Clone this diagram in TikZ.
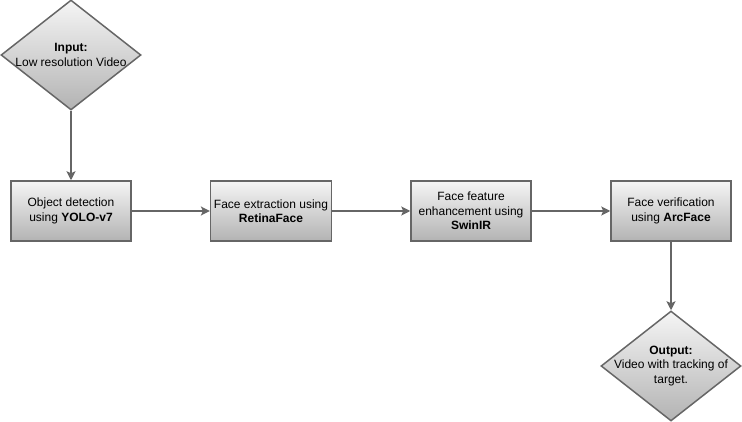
\documentclass[tikz,border=0pt]{standalone}
\usepackage{fontspec}
\setmainfont{Liberation Sans}
\usetikzlibrary{shapes.geometric,arrows.meta}
\definecolor{edgegray}{HTML}{666666}
\definecolor{topgray}{HTML}{F5F5F5}
\definecolor{botgray}{HTML}{B3B3B3}
\begin{document}
\begin{tikzpicture}[x=1pt,y=-1pt,
    proc/.style={rectangle, draw=edgegray, line width=1.5pt, top color=topgray, bottom color=botgray,
      minimum width=120pt, minimum height=60pt, align=center, font=\fontsize{12}{14.5}\selectfont},
    dec/.style={diamond, draw=edgegray, line width=1.5pt, top color=topgray, bottom color=botgray,
      minimum width=140pt, minimum height=110pt, inner sep=0pt},
    flow/.style={draw=edgegray, line width=1.5pt, -{Stealth[length=9pt,width=9pt,inset=2pt]}}]
  \useasboundingbox (0,0) rectangle (742,422);
  % input / output
  \node[dec] (in) at (71,55) {};
  \node[align=center, font=\fontsize{12}{14.5}\selectfont] (intext) at (in) {\textbf{Input:}\\Low resolution Video};
  \node[dec] (out) at (671,366) {};
  \node[align=center, font=\fontsize{12}{14.5}\selectfont] (outtext) at (out) {\textbf{Output:}\\Video with tracking of\\target.};
  % processing steps
  \node[proc] (yolo) at (71,211) {Object detection\\using \textbf{YOLO-v7}};
  \node[proc] (retina) at (271,211) {Face extraction using\\\textbf{RetinaFace}};
  \node[proc] (swin) at (471,211) {Face feature\\enhancement using\\\textbf{SwinIR}};
  \node[proc] (arc) at (671,211) {Face verification\\using \textbf{ArcFace}};
  \draw[flow] (in) -- (yolo);
  \draw[flow] (yolo) -- (retina);
  \draw[flow] (retina) -- (swin);
  \draw[flow] (swin) -- (arc);
  \draw[flow] (arc) -- (out);
\end{tikzpicture}
\end{document}
